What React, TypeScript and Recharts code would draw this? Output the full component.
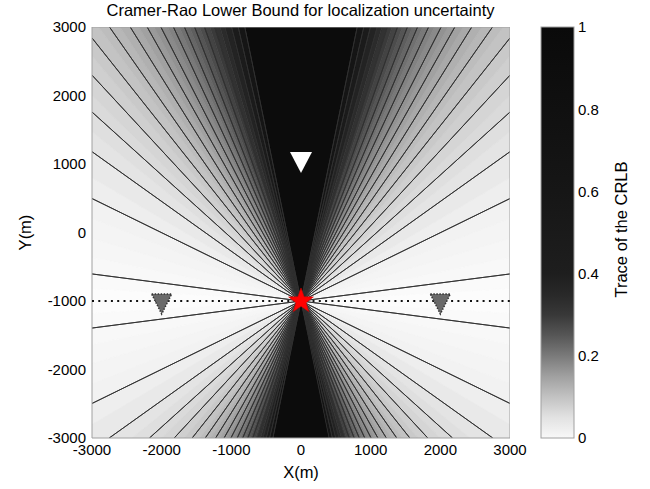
import React from 'react';
import { ComposedChart, Scatter, XAxis, YAxis, Bar } from 'recharts';

const title = 'Cramer-Rao Lower Bound for localization uncertainty';
const source = { x: 0, y: -1000 };
const frame = 3000;

// contour rays leaving the source, in degrees above/below the horizontal (same on both sides)
const contourAngles = [7.5, 26.5, 36.0, 42.6, 47.7, 52.0, 55.5, 58.5, 61.1, 63.3, 65.4, 67.3, 69.1, 70.9, 72.8, 74.7, 76.0, 77.3, 78.6];

// shading: upper edge (deg from horizontal) of each shade band and its grey (0-255)
const shadeEdges = [3.5, 7.5, 12, 17, 22, 26.5, 31, 36, 39.5, 42.6, 45, 47.7, 50, 52, 54, 55.5, 57, 58.5, 59.8, 61.1, 62.2, 63.3, 64.4, 65.4, 66.4, 67.3, 68.2, 69.1, 70.0, 70.9, 71.9, 72.8, 73.8, 74.7, 76.0, 77.3, 78.6];
const shadeGray = [252, 250, 248, 246, 244, 242, 238, 233, 228, 223, 218, 213, 207, 201, 195, 189, 183, 176, 169, 161, 154, 146, 138, 130, 121, 112, 103, 94, 85, 76, 67, 58, 50, 43, 35, 27, 21, 12];

const sensorTop = [{ x: 0, y: 1000 }];
const sensorSides = [{ x: -2000, y: -1000 }, { x: 2000, y: -1000 }];
const sourcePt = [{ x: 0, y: -1000 }];
const baseline = [{ x: -3000, y: -1000 }, { x: 3000, y: -1000 }];
const axisTicks = [-3000, -2000, -1000, 0, 1000, 2000, 3000];

const cbTicks = [0, 0.2, 0.4, 0.6, 0.8, 1];
const cbLevels = [0, 0.05, 0.1, 0.15, 0.2, 0.25, 0.3, 0.35, 0.4, 0.6, 0.8, 1];
const cbGray = [248, 226, 194, 160, 122, 86, 56, 40, 30, 22, 16, 10];

const FONT = '"Liberation Sans", Arial, sans-serif';
const gray = (g: number) => `rgb(${g},${g},${g})`;
const rad = (d: number) => (d * Math.PI) / 180;

// where a ray from the source at angle th (deg, 0 = right, 90 = up) meets the frame
function borderPoint(th: number) {
  const dx = Math.cos(rad(th));
  const dy = Math.sin(rad(th));
  const tx = Math.abs(dx) < 1e-9 ? Infinity : ((dx > 0 ? frame : -frame) - source.x) / dx;
  const ty = Math.abs(dy) < 1e-9 ? Infinity : ((dy > 0 ? frame : -frame) - source.y) / dy;
  const t = Math.min(tx, ty);
  return { x: source.x + t * dx, y: source.y + t * dy };
}

const corners = [
  { x: frame, y: frame },
  { x: -frame, y: frame },
  { x: -frame, y: -frame },
  { x: frame, y: -frame },
];
const frameLine = [...corners, corners[0]];

function wedge(a0: number, a1: number) {
  const pts = [{ ...source }, borderPoint(a0)];
  const inside: { a: number; p: { x: number; y: number } }[] = [];
  corners.forEach((c) => {
    let a = (Math.atan2(c.y - source.y, c.x - source.x) * 180) / Math.PI;
    if (a < a0) a += 360;
    if (a > a0 && a < a1) inside.push({ a, p: c });
  });
  inside.sort((m, n) => m.a - n.a).forEach((c) => pts.push(c.p));
  pts.push(borderPoint(a1));
  return pts;
}

const edges = [0, ...shadeEdges, 90];
const bands = shadeGray.map((g, i) => {
  const e0 = edges[i];
  const e1 = edges[i + 1];
  let pts: { x: number; y: number }[];
  if (i === 0) {
    pts = [...wedge(-e1, e1), ...wedge(180 - e1, 180 + e1)];
  } else if (i === shadeGray.length - 1) {
    pts = [...wedge(e0, 180 - e0), ...wedge(180 + e0, 360 - e0)];
  } else {
    pts = [
      ...wedge(e0, e1),
      ...wedge(180 - e1, 180 - e0),
      ...wedge(180 + e0, 180 + e1),
      ...wedge(-e1, -e0),
    ];
  }
  return { g, pts };
});

const rays: { x: number; y: number }[] = [];
contourAngles.forEach((a) => {
  [a, 180 - a, 180 + a, -a].forEach((th) => {
    rays.push({ ...source }, borderPoint(th));
  });
});

const noShape = () => <g />;

const whiteTriangle = (p: any) => (
  <polygon points={`${p.cx - 11},${p.cy - 12} ${p.cx + 11},${p.cy - 12} ${p.cx},${p.cy + 9}`} fill="#ffffff" />
);

const greyTriangle = (p: any) => (
  <polygon
    points={`${p.cx - 10},${p.cy - 7} ${p.cx + 10},${p.cy - 7} ${p.cx},${p.cy + 13}`}
    fill="#6a6a6a"
    stroke="#333"
    strokeWidth={1.5}
    strokeDasharray="1.5 1.5"
  />
);

const starShape = (p: any) => {
  const pts: string[] = [];
  for (let k = 0; k < 10; k++) {
    const r = k % 2 === 0 ? 13 : 5.3;
    const a = -Math.PI / 2 + (k * Math.PI) / 5;
    pts.push(`${p.cx + r * Math.cos(a)},${p.cy + r * Math.sin(a)}`);
  }
  return <polygon points={pts.join(' ')} fill="#ff0000" stroke="#d00000" strokeWidth={0.6} />;
};

const polyLine = (color: string) => (lp: any) => (
  <polygon
    points={lp.points.map((q: any) => `${q.x},${q.y}`).join(' ')}
    fill={color}
    stroke={color}
    strokeWidth={0.6}
  />
);

// gradient stops must go top (value 1) to bottom (value 0)
const cbStops = cbLevels.map((lv, i) => ({ lv, g: cbGray[i] })).reverse();

const colorbarShape = (p: any) => (
  <g>
    <defs>
      <linearGradient id="cbGrad" x1="0" y1="0" x2="0" y2="1">
        {cbStops.map((s, i) => (
          <stop key={i} offset={`${(1 - s.lv) * 100}%`} stopColor={gray(s.g)} />
        ))}
      </linearGradient>
    </defs>
    <rect x={p.x} y={p.y} width={p.width} height={p.height} fill="url(#cbGrad)" stroke="#a0a0a0" strokeWidth={1} />
  </g>
);

const tickStyle = { fill: '#000', fontSize: 15, fontFamily: FONT };
const LABEL_SIZE = 16.5;

const App: React.FC = () => {
  return (
    <div style={{ position: 'absolute', left: 0, top: 0, width: 650, height: 489, background: '#fff', fontFamily: FONT }}>
      <div
        style={{
          position: 'absolute',
          left: 0,
          top: 1,
          width: 601,
          textAlign: 'center',
          fontSize: LABEL_SIZE,
          lineHeight: '19px',
          color: '#000',
        }}
      >
        {title}
      </div>
      <div style={{ position: 'absolute', left: 0, top: 0 }}>
        <ComposedChart width={650} height={489} margin={{ top: 27, right: 140, bottom: 21, left: 32 }}>
          <XAxis
            dataKey="x"
            type="number"
            domain={[-3000, 3000]}
            ticks={axisTicks}
            allowDataOverflow
            height={30}
            tickLine={false}
            tickSize={4}
            tickMargin={2}
            tick={tickStyle}
            axisLine={{ stroke: '#a0a0a0' }}
            label={(p: any) => (
              <text x={p.viewBox.x + p.viewBox.width / 2} y={p.viewBox.y + 40} textAnchor="middle" fontSize={LABEL_SIZE} fontFamily={FONT} fill="#000">
                X(m)
              </text>
            )}
          />
          <YAxis
            dataKey="y"
            type="number"
            domain={[-3000, 3000]}
            ticks={axisTicks}
            allowDataOverflow
            width={60}
            tickLine={false}
            tickSize={4}
            tickMargin={2}
            tick={tickStyle}
            axisLine={{ stroke: '#a0a0a0' }}
            label={(p: any) => {
              const cx = p.viewBox.x - 1;
              const cy = p.viewBox.y + p.viewBox.height / 2;
              return (
                <text x={cx} y={cy} transform={`rotate(-90, ${cx}, ${cy})`} textAnchor="middle" fontSize={LABEL_SIZE} fontFamily={FONT} fill="#000">
                  Y(m)
                </text>
              );
            }}
          />
          {bands.map((b, i) => (
            <Scatter
              key={`band-${i}`}
              data={b.pts}
              shape={noShape}
              line={polyLine(gray(b.g))}
              lineType="joint"
              isAnimationActive={false}
            />
          ))}
          <Scatter
            data={rays}
            shape={noShape}
            line={{ stroke: '#303030', strokeWidth: 0.9 }}
            lineType="joint"
            isAnimationActive={false}
          />
          <Scatter
            data={frameLine}
            shape={noShape}
            line={{ stroke: '#a0a0a0', strokeWidth: 1 }}
            lineType="joint"
            isAnimationActive={false}
          />
          <Scatter
            data={baseline}
            shape={noShape}
            line={{ stroke: '#111', strokeWidth: 2, strokeDasharray: '2 4.3' }}
            lineType="joint"
            isAnimationActive={false}
          />
          <Scatter data={sensorTop} shape={whiteTriangle} isAnimationActive={false} />
          <Scatter data={sensorSides} shape={greyTriangle} isAnimationActive={false} />
          <Scatter data={sourcePt} shape={starShape} isAnimationActive={false} />
        </ComposedChart>
      </div>
      <div style={{ position: 'absolute', left: 500, top: 0 }}>
        <ComposedChart
          width={150}
          height={489}
          data={[{ k: 'cb', v: 1 }]}
          margin={{ top: 27, right: 26, bottom: 51, left: 41 }}
          barCategoryGap={0}
        >
          <XAxis dataKey="k" hide />
          <YAxis
            orientation="right"
            type="number"
            domain={[0, 1]}
            ticks={cbTicks}
            width={50}
            axisLine={false}
            tickLine={false}
            tickSize={0}
            tickMargin={4}
            tick={{ ...tickStyle, textAnchor: 'start' }}
            label={(p: any) => {
              const cx = p.viewBox.x + 53;
              const cy = p.viewBox.y + p.viewBox.height / 2 - 3;
              return (
                <text x={cx} y={cy} transform={`rotate(-90, ${cx}, ${cy})`} textAnchor="middle" fontSize={LABEL_SIZE} fontFamily={FONT} fill="#000">
                  Trace of the CRLB
                </text>
              );
            }}
          />
          <Bar dataKey="v" shape={colorbarShape} isAnimationActive={false} />
        </ComposedChart>
      </div>
    </div>
  );
};

export default App;
